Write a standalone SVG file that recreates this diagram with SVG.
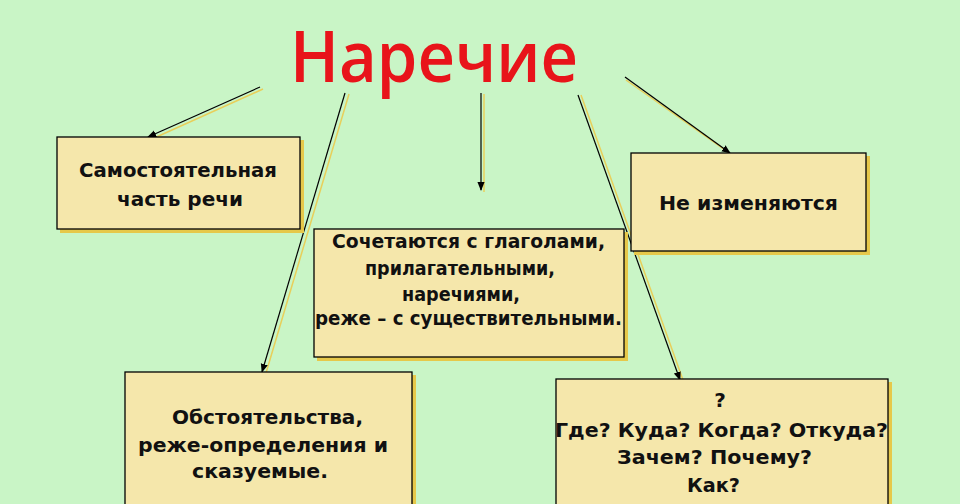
<svg xmlns="http://www.w3.org/2000/svg" width="960" height="504" viewBox="0 0 960 504">
<defs>
<style>
.bg{fill:#c9f5c6}
.shadow{fill:#e6c84a}
.box{fill:#f5e7ab;stroke:#000;stroke-width:1.3}
.t{font-family:"DejaVu Sans","Liberation Sans",sans-serif;font-weight:bold;font-size:20px;fill:#111;text-anchor:middle}
.title{font-family:"Open Sans","DejaVu Sans",sans-serif;font-weight:600;font-size:70px;fill:#e8141a;text-anchor:middle}
.ln{stroke:#000;stroke-width:1.2;fill:none}
.lns{stroke:#e8cf5a;stroke-width:1.5;fill:none}
</style>
<marker id="arr" viewBox="0 0 10 10" refX="9" refY="5" markerWidth="9" markerHeight="9" markerUnits="userSpaceOnUse" orient="auto">
<path d="M0,1 L10,5 L0,9 Z" fill="#000"/>
</marker>
</defs>
<rect class="bg" x="0" y="0" width="960" height="504"/>
<g id="title"><text class="title" x="434" y="82" textLength="288" lengthAdjust="spacingAndGlyphs">Наречие</text></g>
<g id="connectors">
<line class="lns" x1="263" y1="89" x2="152" y2="139"/>
<line class="ln" x1="260" y1="87" x2="148" y2="137" marker-end="url(#arr)"/>
<line class="lns" x1="349" y1="94" x2="266" y2="373"/>
<line class="ln" x1="345" y1="93" x2="262" y2="372" marker-end="url(#arr)"/>
<line class="lns" x1="484" y1="94" x2="484" y2="192"/>
<line class="ln" x1="481" y1="93" x2="481" y2="190" marker-end="url(#arr)"/>
<line class="lns" x1="581" y1="95" x2="683" y2="380"/>
<line class="ln" x1="578" y1="95" x2="680" y2="380" marker-end="url(#arr)"/>
<line class="lns" x1="626" y1="80" x2="732" y2="155"/>
<line class="ln" x1="625" y1="77" x2="730" y2="153" marker-end="url(#arr)"/>
</g>
<g id="node-samost">
<rect class="shadow" x="60" y="140" width="244" height="93"/>
<rect class="box" x="57" y="137" width="243" height="92"/>
<text class="t" x="178" y="177" textLength="198" lengthAdjust="spacingAndGlyphs">Самостоятельная</text>
<text class="t" x="180" y="206" textLength="126" lengthAdjust="spacingAndGlyphs">часть речи</text>
</g>
<g id="node-ne-izm">
<rect class="shadow" x="634" y="156" width="236" height="99"/>
<rect class="box" x="631" y="153" width="235" height="98"/>
<text class="t" x="748.5" y="210" textLength="179" lengthAdjust="spacingAndGlyphs">Не изменяются</text>
</g>
<g id="node-sochet">
<rect class="shadow" x="317" y="232" width="311" height="129"/>
<rect class="box" x="314" y="229" width="310" height="128"/>
<text class="t" x="468.5" y="248" textLength="273" lengthAdjust="spacingAndGlyphs">Сочетаются с глаголами,</text>
<text class="t" x="460" y="275" textLength="190" lengthAdjust="spacingAndGlyphs">прилагательными,</text>
<text class="t" x="461" y="301" textLength="118" lengthAdjust="spacingAndGlyphs">наречиями,</text>
<text class="t" x="468.5" y="325" textLength="307" lengthAdjust="spacingAndGlyphs">реже – с существительными.</text>
</g>
<g id="node-obst">
<rect class="shadow" x="128" y="375" width="288" height="140"/>
<rect class="box" x="125" y="372" width="287" height="140"/>
<text class="t" x="267.5" y="424" textLength="191" lengthAdjust="spacingAndGlyphs">Обстоятельства,</text>
<text class="t" x="263" y="452" textLength="250" lengthAdjust="spacingAndGlyphs">реже-определения и</text>
<text class="t" x="260" y="478" textLength="136" lengthAdjust="spacingAndGlyphs">сказуемые.</text>
</g>
<g id="node-questions">
<rect class="shadow" x="559" y="382" width="333" height="130"/>
<rect class="box" x="556" y="379" width="332" height="140"/>
<text class="t" x="720" y="407">?</text>
<text class="t" x="721.5" y="437" textLength="333" lengthAdjust="spacingAndGlyphs">Где? Куда? Когда? Откуда?</text>
<text class="t" x="714.5" y="464" textLength="195" lengthAdjust="spacingAndGlyphs">Зачем? Почему?</text>
<text class="t" x="713.5" y="492" textLength="53" lengthAdjust="spacingAndGlyphs">Как?</text>
</g>
</svg>
